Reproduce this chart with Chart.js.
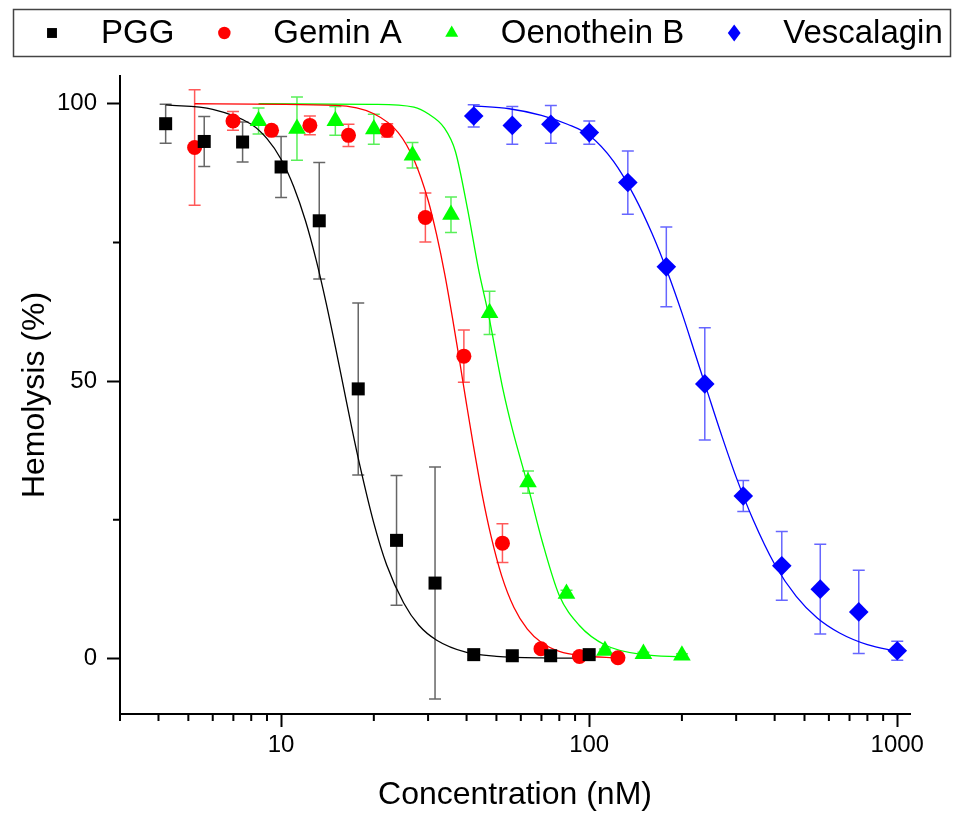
<!DOCTYPE html>
<html>
<head>
<meta charset="utf-8">
<script src="https://cdn.jsdelivr.net/npm/chart.js@4.4.1/dist/chart.umd.min.js"></script>
<style>
  body { margin: 0; background: #fff; }
  #wrap { width: 959px; height: 814px; }
</style>
</head>
<body>
<div id="wrap"><canvas id="myChart" width="959" height="814"></canvas></div>
<script>
// measured points (concentration nM, hemolysis %, +/- error)
const pggX = [4.22, 5.63, 7.5, 10, 13.3, 17.8, 23.7, 31.6, 42.2, 56.3, 75, 100];
const pggY = [96.4, 93.2, 93.1, 88.6, 78.9, 48.6, 21.3, 13.6, 0.7, 0.5, 0.5, 0.7];
const pggErr = [3.5, 4.5, 3.6, 5.5, 10.5, 15.5, 11.7, 20.9, 0.8, 0.5, 0.5, 0.6];

const geminX = [5.24, 6.98, 9.31, 12.4, 16.55, 22.1, 29.4, 39.2, 52.3, 69.75, 93, 124];
const geminY = [92.1, 96.9, 95.2, 96.1, 94.3, 95.2, 79.5, 54.5, 20.8, 1.75, 0.36, 0.13];
const geminErr = [10.4, 1.7, 0.8, 1.7, 2.0, 1.2, 4.4, 4.7, 3.5, 0.5, 0.3, 0.3];

const oenoX = [8.45, 11.26, 15.0, 20.0, 26.7, 35.6, 47.5, 63.3, 84.4, 112.5, 150, 200];
const oenoY = [96.9, 95.5, 96.9, 95.4, 90.7, 80.0, 62.3, 31.8, 11.7, 1.4, 0.85, 0.55];
const oenoErr = [2.35, 5.7, 2.6, 2.7, 2.3, 3.2, 3.9, 2.0, 0.6, 0.3, 0.3, 0.3];

const vescX = [42.2, 56.3, 75.1, 100.1, 133.5, 178, 237.3, 316.4, 421.9, 562.5, 750, 1000];
const vescY = [97.8, 96.1, 96.3, 94.8, 85.8, 70.6, 49.5, 29.3, 16.7, 12.5, 8.4, 1.4];
const vescErr = [2.0, 3.4, 3.4, 2.1, 5.7, 7.2, 10.1, 2.8, 6.2, 8.1, 7.5, 1.7];

// fitted curves
const pggFitX = [4.22, 6, 8, 9, 10, 11, 12, 13, 14, 15, 16, 17, 18, 20, 22, 25, 28, 32, 40, 50, 70, 100];
const pggFitY = [99.8, 99.0, 96.3, 93.7, 90.0, 85.0, 78.9, 71.8, 64.1, 56.2, 48.5, 41.3, 34.9, 24.4, 16.9, 10.0, 6.0, 3.3, 1.1, 0.4, 0.1, 0.05];

const geminFitX = [5.24, 15, 20, 24, 27, 30, 32, 34, 36, 38, 40, 42, 45, 48, 52, 57, 63, 70, 80, 95, 124];
const geminFitY = [100, 99.7, 98.2, 94.8, 89.9, 82.6, 76.3, 69.2, 61.4, 53.5, 45.8, 38.7, 29.4, 22.1, 14.9, 9.2, 5.3, 2.9, 1.3, 0.5, 0.1];

const oenoFitX = [8.45, 20, 27, 30.2, 33.8, 36.8, 40.3, 43.8, 47.0, 52.5, 56.4, 62.8, 70.5, 79.8, 92.8, 113, 150, 200];
const oenoFitY = [100, 99.9, 99.4, 98.1, 95.7, 91.4, 81.0, 70.0, 62.3, 48.5, 41.2, 31.8, 21.0, 11.5, 6.0, 2.4, 0.7, 0.3];

const vescFitX = [42, 55, 70, 85, 100, 120, 140, 160, 180, 200, 220, 240, 270, 300, 340, 400, 470, 550, 650, 800, 1000];
const vescFitY = [99.6, 99.1, 97.9, 96.3, 94.3, 89.6, 83.4, 76.6, 69.5, 62.3, 55.2, 48.7, 40.0, 32.7, 25.1, 17.0, 11.2, 7.3, 4.6, 2.5, 1.3];

const xTicks = [10, 100, 1000];
const xMinor = [3, 4, 5, 6, 7, 8, 9, 20, 30, 40, 50, 60, 70, 80, 90, 200, 300, 400, 500, 600, 700, 800, 900];
const yTicks = [0, 50, 100];
const yMinor = [25, 75];

const FONT = "'Liberation Sans', Arial, sans-serif";

const series = [
  { label: 'PGG',         color: '#000000', bar: 'rgba(0,0,0,0.6)',    style: 'rect',     r: 9.2,  xs: pggX,   ys: pggY,   err: pggErr,   fx: pggFitX,   fy: pggFitY },
  { label: 'Gemin A',     color: '#ff0000', bar: 'rgba(255,0,0,0.65)', style: 'circle',   r: 7.5,  xs: geminX, ys: geminY, err: geminErr, fx: geminFitX, fy: geminFitY },
  { label: 'Oenothein B', color: '#00ff00', bar: 'rgba(0,230,0,0.65)', style: 'triangle', r: 10.2, xs: oenoX,  ys: oenoY,  err: oenoErr,  fx: oenoFitX,  fy: oenoFitY },
  { label: 'Vescalagin',  color: '#0000ff', bar: 'rgba(0,0,255,0.6)',  style: 'rectRot',  r: 9.8,  xs: vescX,  ys: vescY,  err: vescErr,  fx: vescFitX,  fy: vescFitY }
];

const pts = (xs, ys) => xs.map((x, i) => ({x: x, y: ys[i]}));

const datasets = [];
series.forEach(s => {
  datasets.push({
    label: s.label,
    data: pts(s.xs, s.ys),
    errors: s.err,
    errorColor: s.bar,
    showLine: false,
    pointStyle: s.style,
    pointRadius: s.r,
    pointBackgroundColor: s.color,
    pointBorderWidth: 0,
    order: 0
  });
});
series.forEach(s => {
  datasets.push({
    label: s.label + ' fit',
    data: pts(s.fx, s.fy),
    showLine: true,
    fill: false,
    borderColor: s.color,
    borderWidth: 1.3,
    pointRadius: 0,
    cubicInterpolationMode: 'monotone',
    order: 1
  });
});

// error bars under the markers
const errorBars = {
  id: 'errorBars',
  beforeDatasetsDraw(chart) {
    const ctx = chart.ctx, x = chart.scales.x, y = chart.scales.y;
    chart.data.datasets.forEach(ds => {
      if (!ds.errors) return;
      ctx.save();
      ctx.strokeStyle = ds.errorColor;
      ctx.lineWidth = 1.5;
      ds.data.forEach((p, j) => {
        const e = ds.errors[j];
        const px = x.getPixelForValue(p.x);
        const top = y.getPixelForValue(p.y + e);
        const bot = y.getPixelForValue(p.y - e);
        ctx.beginPath();
        ctx.moveTo(px, top); ctx.lineTo(px, bot);
        ctx.moveTo(px - 6, top); ctx.lineTo(px + 6, top);
        ctx.moveTo(px - 6, bot); ctx.lineTo(px + 6, bot);
        ctx.stroke();
      });
      ctx.restore();
    });
  }
};

// short minor ticks
const minorTicks = {
  id: 'minorTicks',
  afterDraw(chart) {
    const ctx = chart.ctx, x = chart.scales.x, y = chart.scales.y;
    const b = chart.chartArea.bottom, l = chart.chartArea.left;
    ctx.save();
    ctx.strokeStyle = '#000';
    ctx.lineWidth = 2;
    ctx.beginPath();
    xMinor.forEach(v => { const px = x.getPixelForValue(v); ctx.moveTo(px, b); ctx.lineTo(px, b + 7); });
    yMinor.forEach(v => { const py = y.getPixelForValue(v); ctx.moveTo(l, py); ctx.lineTo(l - 7, py); });
    ctx.stroke();
    ctx.restore();
  }
};

function drawMarker(ctx, style, x, y, r) {
  ctx.beginPath();
  if (style === 'rect') {
    const h = r * Math.SQRT1_2;
    ctx.rect(x - h, y - h, 2 * h, 2 * h);
  } else if (style === 'circle') {
    ctx.arc(x, y, r, 0, Math.PI * 2);
  } else if (style === 'triangle') {
    ctx.moveTo(x, y - r);
    ctx.lineTo(x + r * 0.866, y + r / 2);
    ctx.lineTo(x - r * 0.866, y + r / 2);
    ctx.closePath();
  } else {
    ctx.moveTo(x, y - r); ctx.lineTo(x + r * 0.75, y);
    ctx.lineTo(x, y + r); ctx.lineTo(x - r * 0.75, y);
    ctx.closePath();
  }
  ctx.fill();
}

// boxed legend across the top
const boxLegend = {
  id: 'boxLegend',
  afterDraw(chart) {
    const ctx = chart.ctx;
    ctx.save();
    ctx.strokeStyle = '#444';
    ctx.lineWidth = 1.5;
    ctx.strokeRect(13.5, 9.5, 937, 47);
    ctx.font = '33px ' + FONT;
    ctx.textBaseline = 'middle';
    ctx.fillStyle = '#000';
    const legendR = [7, 6.2, 7.5, 8.5];
    let mx = 52;
    series.forEach((s, i) => {
      ctx.fillStyle = s.color;
      drawMarker(ctx, s.style, mx, 33, legendR[i]);
      ctx.fillStyle = '#000';
      ctx.fillText(s.label, mx + 49, 34);
      mx += 49 + ctx.measureText(s.label).width + 50;
    });
    ctx.restore();
  }
};

const config = {
  type: 'scatter',
  data: { datasets: datasets },
  options: {
    responsive: false,
    animation: false,
    events: [],
    layout: { padding: { top: 76, right: 49, left: 0, bottom: 0 } },
    plugins: { legend: { display: false }, tooltip: { enabled: false } },
    scales: {
      x: {
        type: 'logarithmic',
        min: 3,
        max: 1100,
        afterBuildTicks: s => { s.ticks = xTicks.map(v => ({value: v})); },
        afterFit: s => { s.height = 100; },
        border: { display: true, color: '#000', width: 2 },
        grid: { drawOnChartArea: false, drawTicks: true, tickLength: 13, tickWidth: 2, tickColor: '#000' },
        ticks: { callback: v => String(v), autoSkip: false, maxRotation: 0, color: '#000', padding: 4, font: { size: 24, family: FONT } },
        title: { display: true, text: 'Concentration (nM)', color: '#000', padding: { top: 0, bottom: 0 }, font: { size: 32, family: FONT } }
      },
      y: {
        min: -10,
        max: 105,
        afterBuildTicks: s => { s.ticks = yTicks.map(v => ({value: v})); },
        afterFit: s => { s.width = 120; },
        border: { display: true, color: '#000', width: 2 },
        grid: { drawOnChartArea: false, drawTicks: true, tickLength: 13, tickWidth: 2, tickColor: '#000' },
        ticks: { color: '#000', padding: 10, font: { size: 24, family: FONT } },
        title: { display: true, text: 'Hemolysis (%)', color: '#000', padding: { top: 16, bottom: 0 }, font: { size: 32, family: FONT } }
      }
    }
  },
  plugins: [errorBars, minorTicks, boxLegend]
};

const myChart = new Chart(document.getElementById('myChart'), config);
</script>
</body>
</html>
